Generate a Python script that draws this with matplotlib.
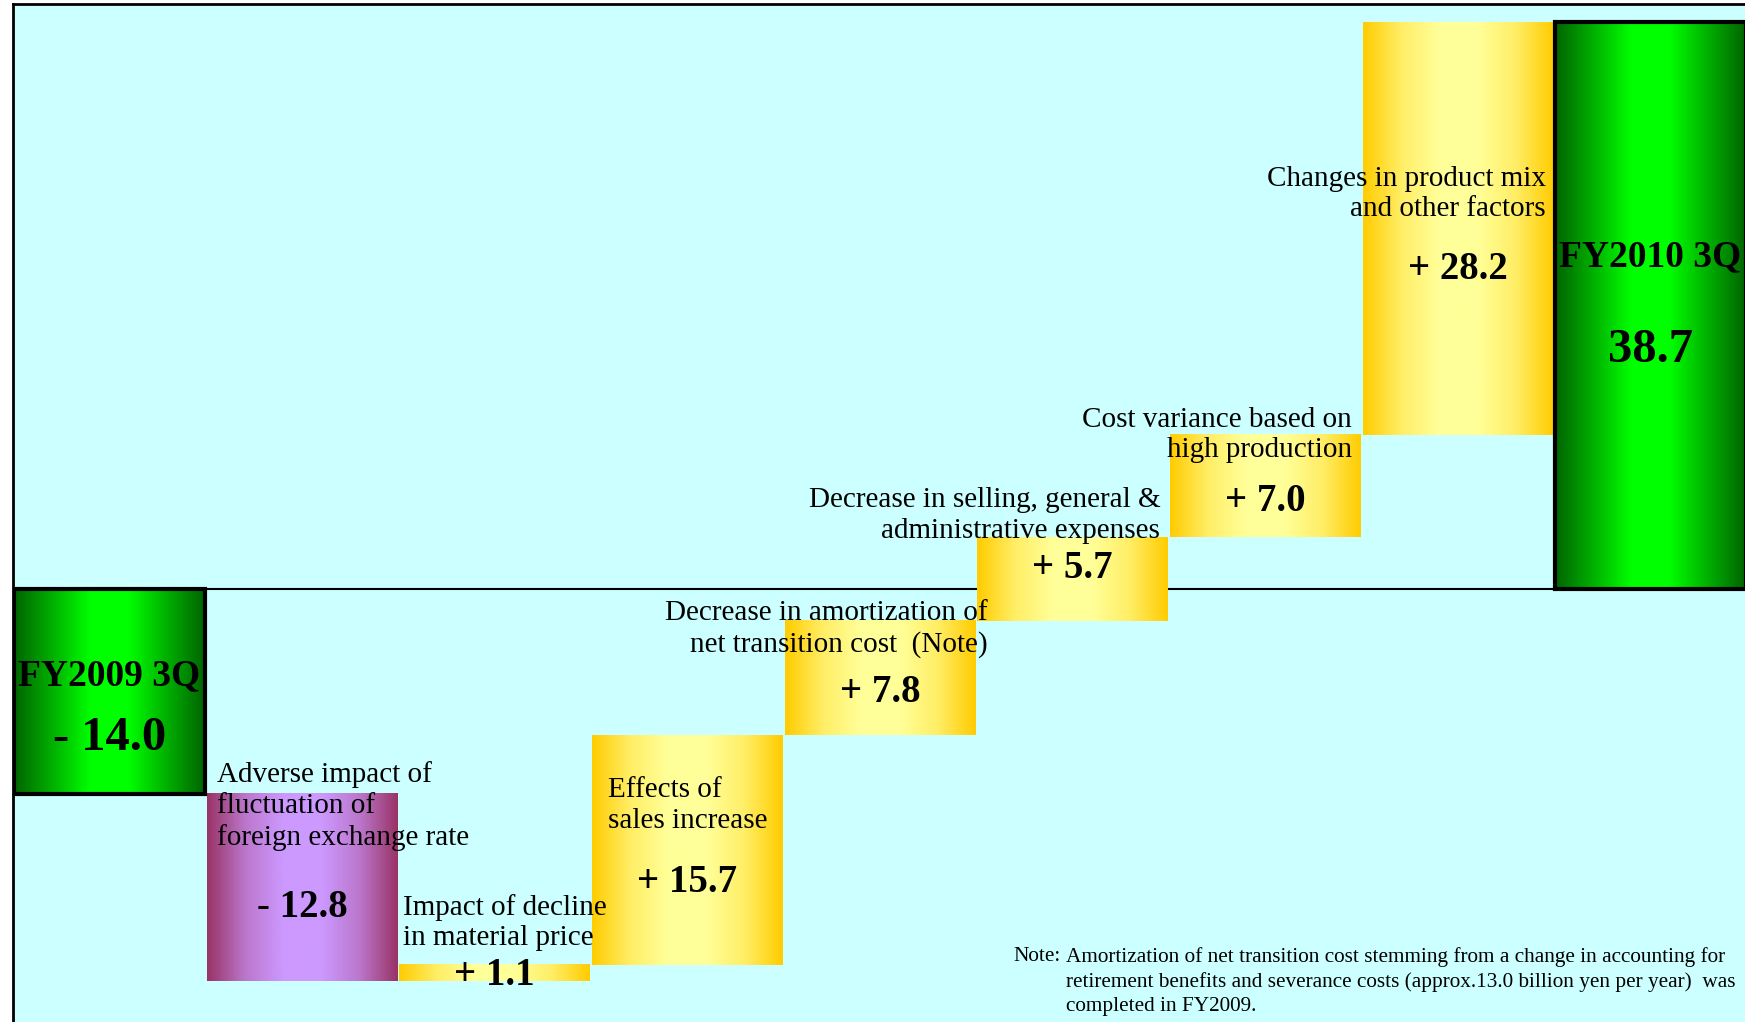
import numpy as np
import matplotlib
matplotlib.use("Agg")
import matplotlib.pyplot as plt
from matplotlib.colors import LinearSegmentedColormap

plt.rcParams['font.family'] = ['Liberation Serif', 'DejaVu Serif']

# data (billion yen)
start_label = "FY2009 3Q"
start_value = -14.0
step_labels = [
    "Adverse impact of\nfluctuation of\nforeign exchange rate",
    "Impact of decline\nin material price",
    "Effects of\nsales increase",
    "Decrease in amortization of\nnet transition cost  (Note)",
    "Decrease in selling, general &\nadministrative expenses",
    "Cost variance based on\nhigh production",
    "Changes in product mix\nand other factors",
]
step_values = [-12.8, 1.1, 15.7, 7.8, 5.7, 7.0, 28.2]
end_label = "FY2010 3Q"
end_value = 38.7
note_text = ("Amortization of net transition cost stemming from a change in accounting for\n"
             "retirement benefits and severance costs (approx.13.0 billion yen per year)  was\n"
             "completed in FY2009.")

# label layout: (x, y, ha) per step bar, in data units
label_pos = [(0.557, -14.85, 'left'), (1.522, -22.8, 'left'), (2.59, -14.83, 'left'),
             (4.561, -2.74, 'right'), (5.455, 5.02, 'right'), (6.45, 10.49, 'right'),
             (7.455, 26.96, 'right')]
value_y = [-21.75, -26.4, -20.1, -7.07, 1.37, 5.93, 21.8]

green = LinearSegmentedColormap.from_list("g", ["#006400", "#00b000", "#00ff00", "#00ff00", "#00b000", "#006400"])
yellow = LinearSegmentedColormap.from_list("y", ["#ffcc00", "#ffee66", "#ffff99", "#ffff99", "#ffee66", "#ffcc00"])
purple = LinearSegmentedColormap.from_list("p", ["#993366", "#bb77cc", "#cc99ff", "#cc99ff", "#bb77cc", "#993366"])

fig = plt.figure(figsize=(17.45, 10.22), dpi=100)
fig.patch.set_facecolor('white')
ax = fig.add_axes([13 / 1745, 0, 1 - 13 / 1745, 1 - 4.5 / 1022])
ax.set_facecolor('#ccffff')

n = len(step_values)
x = np.arange(n + 2)
cum = np.concatenate([[start_value], start_value + np.cumsum(step_values)])
bottoms = np.concatenate([[0], cum[:-1], [0]])
heights = np.concatenate([[start_value], step_values, [end_value]])

bars = ax.bar(x, heights, bottom=bottoms, width=0.99, color='none', edgecolor='none', zorder=3)

grad = np.linspace(0, 1, 256).reshape(1, -1)
for i, rect in enumerate(bars):
    x0, y0 = rect.get_x(), rect.get_y()
    w, h = rect.get_width(), rect.get_height()
    if i == 0 or i == n + 1:
        cmap = green
    elif heights[i] < 0:
        cmap = purple
    else:
        cmap = yellow
    ax.imshow(grad, cmap=cmap, extent=(x0, x0 + w, min(y0, y0 + h), max(y0, y0 + h)),
              aspect='auto', zorder=2, interpolation='bilinear')
    if i == 0 or i == n + 1:
        rect.set_edgecolor('black')
        rect.set_linewidth(3)

ax.axhline(0, color='black', lw=1.5, zorder=1)

# totals
ax.text(0, -5.93, start_label, ha='center', va='center', fontsize=27, fontweight='bold', zorder=5)
ax.text(0, -10.2, "- %.1f" % abs(start_value), ha='center', va='center', fontsize=35, fontweight='bold', zorder=5)
ax.text(n + 1, 22.7, end_label, ha='center', va='center', fontsize=27, fontweight='bold', zorder=5)
ax.text(n + 1, 16.3, "%.1f" % end_value, ha='center', va='center', fontsize=35, fontweight='bold', zorder=5)

for i in range(n):
    lx, ly, ha = label_pos[i]
    ax.text(lx, ly, step_labels[i], ha=ha, va='center', multialignment=ha,
            fontsize=21, linespacing=1.24, zorder=5)
    v = step_values[i]
    s = ("+ %.1f" % v) if v > 0 else ("- %.1f" % abs(v))
    ax.text(i + 1, value_y[i], s, ha='center', va='center', fontsize=28, fontweight='bold', zorder=5)

ax.text(4.694, -25.15, "Note:", ha='left', va='center', fontsize=15.3, zorder=5)
ax.text(4.965, -26.85, note_text, ha='left', va='center', fontsize=15.3, linespacing=1.35, zorder=5)

ax.set_xlim(-0.5, 8.49)
ax.set_ylim(-29.6, 39.9)
ax.set_xticks([])
ax.set_yticks([])
for side in ['bottom', 'right']:
    ax.spines[side].set_visible(False)
for side in ['left', 'top']:
    ax.spines[side].set_linewidth(2)

fig.savefig("out.png", dpi=100)
